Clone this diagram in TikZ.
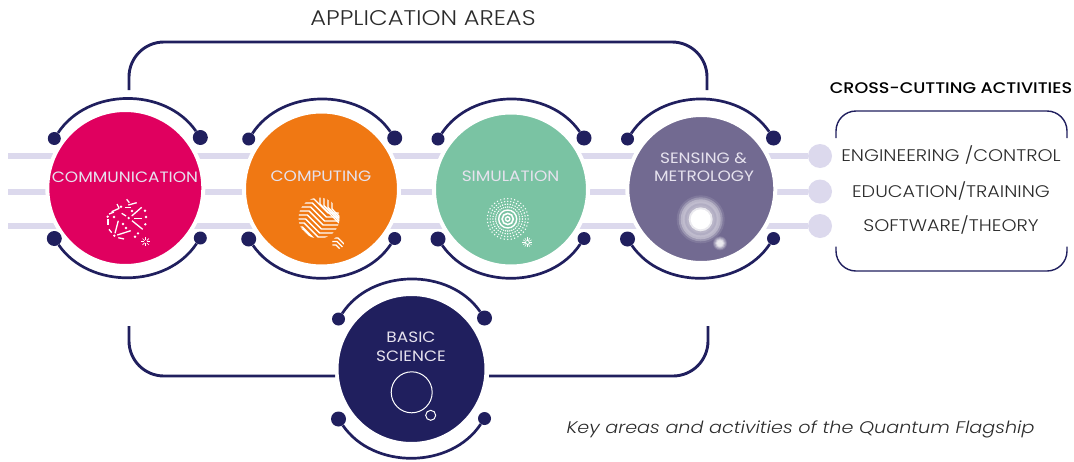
\documentclass[tikz,border=0pt]{standalone}
\usepackage{fontspec}
\setmainfont{Poppins}[UprightFont=* Light, ItalicFont=* Light Italic, BoldFont=* Medium, FakeStretch=1.14]
\newfontfamily\areafont{Poppins}[FakeStretch=1.13]
\usepackage{tikz}
\usetikzlibrary{calc,positioning}
\definecolor{navy}{HTML}{201F5E}
\definecolor{strandclr}{HTML}{DCD9ED}
\definecolor{commclr}{HTML}{E0005F}
\definecolor{compclr}{HTML}{F07813}
\definecolor{simuclr}{HTML}{7AC3A3}
\definecolor{sensclr}{HTML}{726A91}
\definecolor{paleclr}{HTML}{E6E2EE}
\definecolor{inkclr}{HTML}{2B2B2B}

\begin{document}
\begin{tikzpicture}[x=1pt,y=-1pt]
    \tikzstyle{disc} = [draw=white, circle, line width=4pt, inner sep=0pt]
    \tikzstyle{smalldot} = [fill=navy, circle, inner sep=0pt, minimum size=13pt]
    \tikzstyle{bigdot} = [fill=navy, circle, inner sep=0pt, minimum size=15pt]
    \tikzstyle{ringarc} = [draw=navy, line width=2.7pt, bend left=56, looseness=1.0]
    \tikzstyle{bracket} = [draw=navy, line width=2.9pt, rounded corners=35pt]
    \tikzstyle{boxline} = [draw=navy, line width=1.4pt, rounded corners=20pt]
    \tikzstyle{strand} = [draw=strandclr, line width=6pt]
    \tikzstyle{actdot} = [fill=strandclr, circle, inner sep=0pt, minimum size=24pt]
    \tikzstyle{arealabel} = [text=paleclr, inner sep=0pt, font=\areafont\fontsize{15}{18}\selectfont]
    \tikzstyle{actlabel} = [text=inkclr, inner sep=0pt, font=\fontsize{16.8}{19}\selectfont]
    \tikzstyle{trace} = [draw=white, line width=1.4pt]

    \useasboundingbox (0,0) rectangle (1074,461);

    \node[actdot] (engdot) at (820,156) {};
    \node[actdot] (edudot) at (820,191.5) {};
    \node[actdot] (softdot) at (820,226) {};
    \coordinate (engstart) at (8,156);
    \coordinate (edustart) at (8,191.5);
    \coordinate (softstart) at (8,226);
    \draw[strand] (engstart) -- (engdot);
    \draw[strand] (edustart) -- (edudot);
    \draw[strand] (softstart) -- (softdot);

    \node[disc, fill=commclr, minimum size=156pt] (comm) at (125.3,188) {};
    \node[disc, fill=compclr, minimum size=155pt] (comp) at (321.5,189) {};
    \node[disc, fill=simuclr, minimum size=154pt] (simu) at (511,189.5) {};
    \node[disc, fill=sensclr, minimum size=148pt] (sens) at (701.3,189) {};
    \node[disc, fill=navy, minimum size=150pt] (basic) at (411.5,369) {};

    \foreach \name/\cx/\cy in {commring/127.3/188.5, compring/321.7/189, simuring/511/189, sensring/700.5/189, basicring/411.5/369} {
      \node[smalldot] (\name tl) at (\cx-73,\cy-50) {};
      \node[bigdot] (\name tr) at (\cx+73,\cy-51) {};
      \node[bigdot] (\name bl) at (\cx-73,\cy+50) {};
      \node[smalldot] (\name br) at (\cx+73,\cy+49.5) {};
      \draw[ringarc] (\name tl) to (\name tr);
      \draw[ringarc] (\name br) to (\name bl);
    }

    \coordinate (topL) at (129,90);
    \coordinate (topM) at (418,42);
    \coordinate (topR) at (707,90);
    \draw[bracket] (topL) |- (topM) -| (topR);
    \coordinate (botL) at (129,326);
    \coordinate (basicL) at (335,376);
    \coordinate (basicR) at (489,376);
    \coordinate (botR) at (708,326);
    \draw[bracket] (botL) |- (basicL);
    \draw[bracket] (basicR) -| (botR);

    \coordinate (boxTL) at (836,138);
    \coordinate (boxT) at (951,111);
    \coordinate (boxTR) at (1067,138);
    \coordinate (boxBL) at (836,246.5);
    \coordinate (boxB) at (951,271);
    \coordinate (boxBR) at (1067,246.5);
    \draw[boxline] (boxTL) |- (boxT) -| (boxTR);
    \draw[boxline] (boxBL) |- (boxB) -| (boxBR);

    \node[actlabel, font=\fontsize{21.2}{24}\selectfont] (appareas) at (423,18.5) {APPLICATION AREAS};
    \node[actlabel, text=black, font=\bfseries\fontsize{15.4}{18}\selectfont] (crosscut) at (951,88.5) {CROSS-CUTTING ACTIVITIES};
    \node[actlabel] (eng) at (951,155) {ENGINEERING /CONTROL};
    \node[actlabel] (edu) at (951,191) {EDUCATION/TRAINING};
    \node[actlabel] (soft) at (951,225) {SOFTWARE/THEORY};
    \node[actlabel, font=\itshape\fontsize{16.8}{22}\selectfont] (caption) at (800.5,429) {Key areas and activities of the Quantum Flagship};

    \node[arealabel] (commtext) at (125,177.5) {COMMUNICATION};
    \node[arealabel] (comptext) at (321,176.5) {COMPUTING};
    \node[arealabel] (simutext) at (510.5,176.5) {SIMULATION};
    \node[arealabel] (senstexta) at (703.5,158.5) {SENSING \&};
    \node[arealabel] (senstextb) at (704,176.5) {METROLOGY};
    \node[arealabel] (basictexta) at (411,337) {BASIC};
    \node[arealabel] (basictextb) at (411,356) {SCIENCE};

    \begin{scope}[draw=white, line width=1.3pt]
      \foreach \ax/\ay/\bx/\by in {131.7/216/141.7/207.3, 132/220.7/142.7/229.3, 118.3/220.7/115/233.3, 117.3/235/130.7/230.7, 111.7/211.7/119.3/208.3, 125/207.7/130.7/207.7, 134/218.3/141.7/218.3, 121.7/213.3/126/216, 128.3/205/136.7/202.7, 126.7/199.3/129.3/202.7, 109/229.3/111.7/232.7, 118.3/237.7/124/239, 117/204/119/208, 109/214/114/212}
        \draw (\ax,\ay) -- (\bx,\by);
      \draw[line width=2.2pt] (107.7,219.3) -- (107.7,224.7);
      \foreach \dx/\dy in {128.7/218, 114.3/235.7, 121/206.7, 145.3/224.3, 145/210.7, 107.7/216.7, 138/233.3, 135/236.7, 123/224, 126/228, 114/217, 132/211, 146/217}
        \fill[white] (\dx,\dy) circle (1.3);
      \foreach \a in {0,45,...,315}
        \draw[line width=0.7pt] ($(145.7,241.7)+(\a:1.5)$) -- ($(145.7,241.7)+(\a:4.5)$);
    \end{scope}

    \begin{scope}
      \clip (319,218) circle (20.5);
      \foreach \k in {0,...,7}
        \draw[trace] (295,{199+4*\k}) -- ({314-1.66*\k},{199+4*\k}) -- ({328-1.66*\k},{213+4*\k}) -- (345,{213+4*\k});
      \foreach \k in {0,...,3}
        \draw[trace] ({320+4*\k},195) -- ({320+4*\k},{204+1.66*\k}) -- (345,{229-2.3*\k});
      \foreach \k in {0,...,2}
        \draw[trace] (296,{229+4*\k}) -- ({303+\k},{229+4*\k}) -- ({313+\k},{239+4*\k});
    \end{scope}
    \begin{scope}
      \clip (338,243) circle (6);
      \foreach \k in {0,1,2}
        \draw[trace, line width=1.2pt] (331,{238+3.5*\k}) -- ({338-\k},{238+3.5*\k}) -- ({346-\k},{246+3.5*\k});
    \end{scope}

    \begin{scope}[shift={(507.7,219)}]
      \draw[white, line width=1.4pt] (0,0) circle (2.2);
      \draw[white, line width=1.6pt] (0,0) circle (5.6);
      \draw[white, line width=1.4pt] (0,0) circle (9);
      \foreach \a in {0,10,...,350}
        \foreach \r in {12,14.8,17.6,20.4}
          \fill[white] (\a:\r) circle (0.8);
    \end{scope}
    \begin{scope}[shift={(527.3,242.3)}]
      \foreach \a in {0,30,...,330}
        \draw[white, line width=0.5pt] (\a:1.2) -- (\a:5);
    \end{scope}

    \foreach \r/\m in {24/10, 22/30, 20/50, 18/55, 16/45, 14/50, 12/85, 10/100}
      \fill[white!\m!sensclr] (700.7,219.3) circle (\r);
    \foreach \r/\m in {7/15, 6/35, 5/55, 4/75, 3/85}
      \fill[white!\m!sensclr] (720,243.3) circle (\r);

    \draw[white, line width=1pt] (411.7,392.3) circle (20.5);
    \draw[white, line width=1pt] (430.7,415.3) circle (5);
\end{tikzpicture}
\end{document}
